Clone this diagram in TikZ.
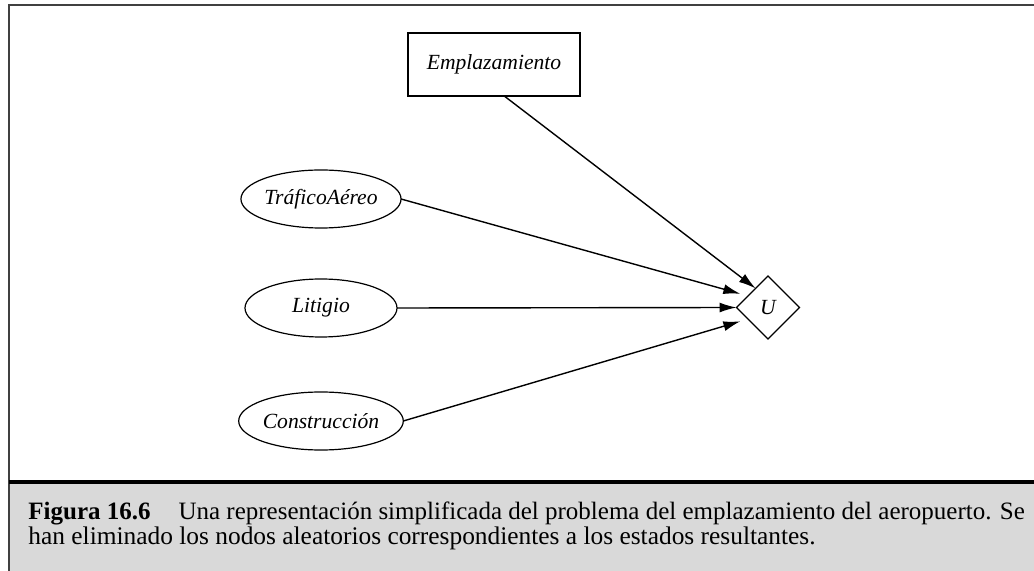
\documentclass[tikz,border=0pt]{standalone}
\usepackage{fontspec}
\setmainfont{Liberation Serif}
\usepackage{xcolor}
\usepackage{tikz}
\usetikzlibrary{arrows.meta, shapes.geometric, positioning}

\definecolor{capgris}{HTML}{D9D9D9}
\definecolor{marco}{HTML}{404040}

\tikzset{
    azar/.style={draw, ellipse, line width=0.6pt, minimum width=76pt, minimum height=29pt,
        inner sep=0pt, outer sep=0pt, font=\fontsize{10.8}{12}\selectfont\itshape},
    decision/.style={draw, rectangle, line width=0.6pt, minimum width=86pt, minimum height=31.5pt,
        inner sep=0pt, outer sep=0pt, font=\fontsize{10.8}{12}\selectfont\itshape},
    utilidad/.style={draw, diamond, aspect=1, line width=0.6pt, minimum size=31.5pt,
        inner sep=0pt, outer sep=0pt, font=\fontsize{10.8}{12}\selectfont\itshape},
    flecha/.style={->, line width=0.7pt}
}

\begin{document}
\begin{tikzpicture}[>={Latex[length=8.5pt, width=5pt]}, x=0.5pt, y=-0.5pt]
    \useasboundingbox (0,0) rectangle (1034,571);

    % 1. Marco y pie de figura
    \fill[capgris] (10,483) rectangle (1034,571);
    \draw[marco, line width=1pt] (9,571) -- (9,5) -- (1034,5);
    \draw[line width=2pt] (9,482) -- (1034,482);
    \node[anchor=base west, inner sep=0pt, font=\fontsize{12.5}{14}\selectfont] (capA) at (28,520)
        {\textbf{Figura 16.6}\hspace{14pt}Una representación simplificada del problema del emplazamiento del aeropuerto. Se};
    \node[anchor=base west, inner sep=0pt, font=\fontsize{12.7}{14}\selectfont] (capB) at (28,545)
        {han eliminado los nodos aleatorios correspondientes a los estados resultantes.};

    % 2. Nodos
    \node[decision] (emp) at (494,64.5) {Emplazamiento};
    \node[azar] (tra) at (321,199) {TráficoAéreo};
    \node[azar] (lit) at (321,308) {Litigio};
    \node[azar] (con) at (321,421) {Construcción};
    \node[utilidad] (u) at (768,307.5) {U};

    % 3. Arcos hacia la utilidad
    \draw[flecha] (emp.-72) -- (u.123);
    \draw[flecha, shorten >=4pt] (tra.east) -- (u.150);
    \draw[flecha] (lit.east) -- (u.west);
    \draw[flecha, shorten >=4pt] (con.east) -- (u.210);
\end{tikzpicture}
\end{document}
